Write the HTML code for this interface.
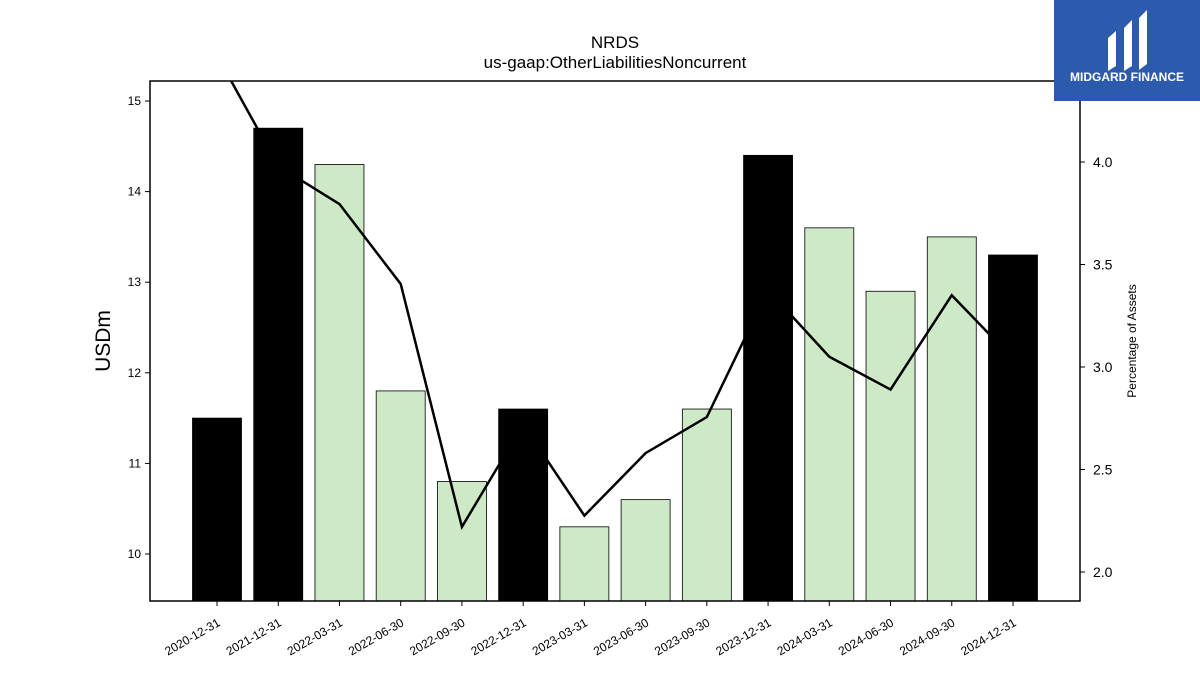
<!DOCTYPE html>
<html><head><meta charset="utf-8"><style>
body{margin:0;background:#fff;font-family:"Liberation Sans",sans-serif}
svg{display:block}
</style></head><body>
<svg id="chart" width="1200" height="675" xmlns="http://www.w3.org/2000/svg">
<text x="615" y="48" text-anchor="middle" font-size="17">NRDS</text>
<text x="615" y="68" text-anchor="middle" font-size="17">us-gaap:OtherLiabilitiesNoncurrent</text>
<g id="bars"></g><g id="line"></g>
<rect x="150" y="81" width="930" height="520" fill="none" stroke="#000" stroke-width="1.5"/>
<g id="axes"></g>
<text transform="translate(110,341) rotate(-90)" text-anchor="middle" font-size="21">USDm</text>
<text transform="translate(1136,341) rotate(-90)" text-anchor="middle" font-size="12">Percentage of Assets</text>
<g>
<rect x="1054" y="0" width="146" height="101" fill="#2c5aac"/>
<path d="M1108 38 L1116 31 L1116 66 L1108 71 Z M1124 28 L1132 20 L1132 66 L1124 71 Z M1139 18 L1147 10 L1147 64 L1139 70 Z" fill="#fff"/>
<text x="1127" y="81" text-anchor="middle" font-size="12" font-weight="bold" fill="#fff">MIDGARD FINANCE</text>
</g>
</svg>
<script>
const categories=["2020-12-31","2021-12-31","2022-03-31","2022-06-30","2022-09-30","2022-12-31","2023-03-31","2023-06-30","2023-09-30","2023-12-31","2024-03-31","2024-06-30","2024-09-30","2024-12-31"];
const values=[11.5,14.7,14.3,11.8,10.8,11.6,10.3,10.6,11.6,14.4,13.6,12.9,13.5,13.3];
const pct=[4.52,3.98,3.795,3.405,2.22,2.72,2.275,2.58,2.756,3.375,3.05,2.89,3.35,3.04];
const leftTicks=[10,11,12,13,14,15];
const rightTicks=["2.0","2.5","3.0","3.5","4.0"];
const NS="http://www.w3.org/2000/svg";
const x0=150,x1=1080,yT=81,yB=601;
const yL=v=>554-(v-10)*90.6;
const yR=v=>572-(v-2)*205;
const xC=i=>217+i*61.23;
const bw=49;
function mk(t,a,p){const e=document.createElementNS(NS,t);for(const k in a)e.setAttribute(k,a[k]);p.appendChild(e);return e;}
const bars=document.getElementById('bars'),line=document.getElementById('line'),axes=document.getElementById('axes');
values.forEach((v,i)=>{const ye=categories[i].endsWith("12-31");
const r=mk('rect',{x:xC(i)-bw/2,y:yL(v),width:bw,height:yB-yL(v),fill:ye?'#000':'#cde9c6',stroke:'#000','stroke-width':0.8},bars);


const tk=mk('line',{x1:xC(i),x2:xC(i),y1:yB,y2:yB+5,stroke:'#000'},axes);


const t=mk('text',{transform:`translate(${xC(i)+4},${yB+24}) rotate(-30)`,'text-anchor':'end','font-size':12},axes);
t.textContent=categories[i];

});
mk('clipPath',{id:'cp'},line);
mk('rect',{x:x0,y:yT,width:x1-x0,height:yB-yT},document.getElementById('cp'));
const pl=mk('polyline',{points:pct.map((p,i)=>xC(i)+','+yR(p)).join(' '),fill:'none',stroke:'#000','stroke-width':2.5,'clip-path':'url(#cp)'},line);


leftTicks.forEach(v=>{mk('line',{x1:x0-5,x2:x0,y1:yL(v),y2:yL(v),stroke:'#000'},axes);
const t=mk('text',{x:x0-9,y:yL(v)+4,'text-anchor':'end','font-size':12},axes);t.textContent=v;

});
rightTicks.forEach(v=>{mk('line',{x1:x1,x2:x1+5,y1:yR(+v),y2:yR(+v),stroke:'#000'},axes);
const t=mk('text',{x:x1+13,y:yR(+v)+5,'font-size':14},axes);t.textContent=v;

});
</script>
</body></html>
